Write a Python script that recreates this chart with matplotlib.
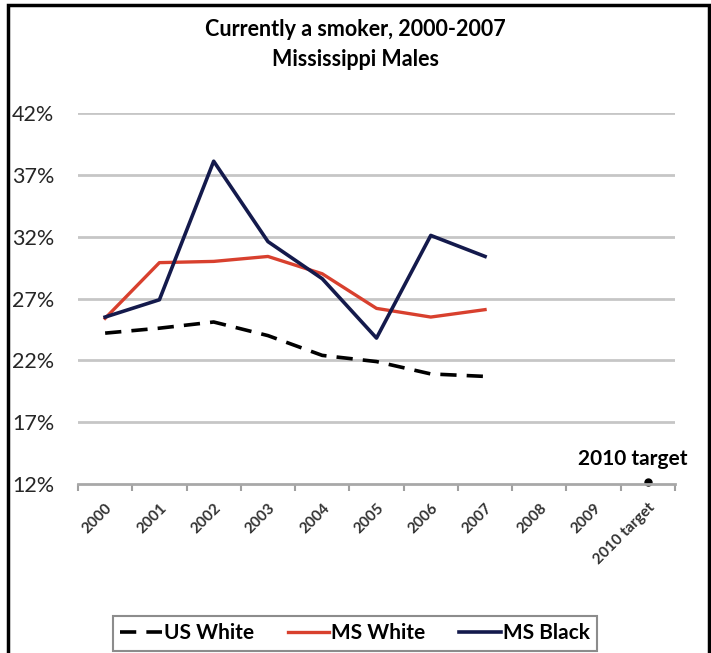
import numpy as np
import matplotlib
matplotlib.use("Agg")
import matplotlib.pyplot as plt
from matplotlib.patches import Rectangle

years = ["2000", "2001", "2002", "2003", "2004", "2005", "2006", "2007",
         "2008", "2009", "2010 target"]
us_white = [24.2, 24.6, 25.1, 24.0, 22.4, 21.9, 20.9, 20.7]
ms_white = [25.4, 29.9, 30.0, 30.4, 29.0, 26.2, 25.5, 26.1]
ms_black = [25.5, 26.9, 38.1, 31.6, 28.6, 23.8, 32.1, 30.4]
target_val = 12.15
yticks = [12, 17, 22, 27, 32, 37, 42]

plt.rcParams["font.family"] = ["Lato", "DejaVu Sans"]

fig = plt.figure(figsize=(7.11, 6.53), dpi=100)
ax = fig.add_axes([78 / 711, 1 - 484 / 653, (675 - 78) / 711, (484 - 113) / 653])

x = np.arange(len(years))
n = len(us_white)
ax.plot(x[:n], us_white, color="black", lw=2.6, dashes=(4.5, 2.8), label="US White")
ax.plot(x[:n], ms_white, color="#d8402e", lw=2.4, label="MS White")
ax.plot(x[:n], ms_black, color="#141a4c", lw=2.6, label="MS Black")
ax.plot([x[-1]], [target_val], "o", color="black", ms=5, clip_on=False)
ax.text(x[-1] - 0.27, target_val + 1.1, "2010 target", ha="center", va="bottom",
        fontsize=15, fontweight="bold")

ax.set_xlim(-0.5, len(years) - 0.5)
ax.set_ylim(12, 42)
ax.set_yticks(yticks)
ax.set_yticklabels([f"{v}%" for v in yticks], fontsize=15.5, color="#262626")
ax.set_xticks(x)
ax.set_xticklabels(years, rotation=45, ha="right", va="top", rotation_mode="anchor",
                   fontsize=11, fontweight="bold", color="#333333")
ax.tick_params(axis="x", length=0, pad=12)
ax.tick_params(axis="y", length=0, pad=17)
ax.set_xticks(np.arange(-0.5, len(years)), minor=True)
ax.tick_params(axis="x", which="minor", length=5, width=1.5, color="#a0a0a0")
for y in yticks[1:]:
    ax.axhline(y, color="#c6c6c6", lw=2, zorder=0)
for s in ["top", "right", "left"]:
    ax.spines[s].set_visible(False)
ax.spines["bottom"].set_color("#a8a8a8")
ax.spines["bottom"].set_linewidth(2)

fig.text(0.5, 1 - 30 / 653, "Currently a smoker, 2000-2007", ha="center", va="center",
         fontsize=15.5, fontweight="bold")
fig.text(0.5, 1 - 59 / 653, "Mississippi Males", ha="center", va="center",
         fontsize=15.5, fontweight="bold")

leg = fig.legend(loc="upper center", bbox_to_anchor=(355 / 711, 1 - 616 / 653), ncol=3,
                 frameon=True, fancybox=False, handlelength=2.0, handletextpad=0.1,
                 columnspacing=1.6, borderpad=0.35, borderaxespad=0,
                 prop={"weight": "bold", "size": 15})
leg.get_frame().set_edgecolor("#707070")
leg.get_frame().set_linewidth(1.5)

fig.patches.append(Rectangle((8 / 711, -0.05), (709 - 8) / 711, 1.05 - 5 / 653,
                             transform=fig.transFigure, fill=False, ec="black", lw=2.5))

fig.savefig("out.png", dpi=100)
